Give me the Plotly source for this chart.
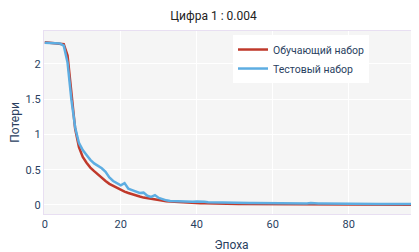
import plotly.graph_objects as go

epochs = list(range(100))

train_loss = [
    2.31, 2.305, 2.30, 2.30, 2.295, 2.28, 2.12, 1.55, 1.08, 0.82,
    0.68, 0.60, 0.53, 0.48, 0.43, 0.38, 0.34, 0.30, 0.27, 0.24,
    0.215, 0.19, 0.17, 0.15, 0.135, 0.12, 0.105, 0.095, 0.085, 0.077,
    0.068, 0.060, 0.054, 0.048, 0.044, 0.040, 0.037, 0.034, 0.031, 0.029,
    0.027, 0.025, 0.024, 0.022, 0.021, 0.020, 0.019, 0.018, 0.0175, 0.017,
    0.016, 0.0155, 0.015, 0.0145, 0.014, 0.0135, 0.013, 0.0128, 0.0125, 0.012,
    0.0118, 0.0115, 0.011, 0.0108, 0.0105, 0.010, 0.0098, 0.0095, 0.0092, 0.009,
    0.0088, 0.0085, 0.0083, 0.008, 0.0078, 0.0076, 0.0074, 0.0072, 0.007, 0.0068,
    0.0066, 0.0064, 0.0062, 0.006, 0.0059, 0.0058, 0.0056, 0.0055, 0.0054, 0.0052,
    0.0051, 0.005, 0.0049, 0.0048, 0.0047, 0.0046, 0.0044, 0.0043, 0.0042, 0.004,
]

test_loss = [
    2.30, 2.30, 2.30, 2.295, 2.29, 2.26, 2.02, 1.50, 1.10, 0.88,
    0.78, 0.71, 0.64, 0.59, 0.56, 0.52, 0.47, 0.39, 0.34, 0.31,
    0.28, 0.31, 0.23, 0.21, 0.19, 0.17, 0.175, 0.13, 0.115, 0.14,
    0.10, 0.08, 0.066, 0.058, 0.055, 0.052, 0.050, 0.046, 0.045, 0.047,
    0.050, 0.052, 0.045, 0.040, 0.038, 0.037, 0.035, 0.033, 0.032, 0.031,
    0.030, 0.030, 0.029, 0.028, 0.028, 0.027, 0.026, 0.026, 0.025, 0.025,
    0.024, 0.024, 0.023, 0.025, 0.024, 0.023, 0.022, 0.022, 0.021, 0.022,
    0.028, 0.021, 0.020, 0.020, 0.019, 0.019, 0.019, 0.018, 0.018, 0.018,
    0.017, 0.017, 0.017, 0.017, 0.016, 0.016, 0.016, 0.016, 0.015, 0.015,
    0.015, 0.015, 0.015, 0.014, 0.014, 0.014, 0.014, 0.014, 0.013, 0.013,
]

fig = go.Figure()
fig.add_trace(go.Scatter(x=epochs, y=train_loss, mode="lines", name="Обучающий набор",
                         line=dict(color="#c0392b", width=2.5)))
fig.add_trace(go.Scatter(x=epochs, y=test_loss, mode="lines", name="Тестовый набор",
                         line=dict(color="#5dade2", width=2.5)))

fig.update_layout(
    width=411, height=244,
    margin=dict(l=36, r=0, t=23, b=38, autoexpand=False),
    paper_bgcolor="white",
    plot_bgcolor="#f5f5f5",
    font=dict(family="Roboto, Arial, sans-serif", size=11, color="#2a3f5f"),
    title=dict(text="Цифра 1 : 0.004", x=0.5, xanchor="center", y=0.966, yanchor="middle",
               font=dict(size=12, color="#222")),
    legend=dict(x=0.504, y=0.978, xanchor="left", yanchor="top",
                bgcolor="white", font=dict(size=10.5)),
    showlegend=True,
)
fig.update_xaxes(title=dict(text="Эпоха", font=dict(size=12), standoff=10),
                 range=[-0.2, 98.5], gridcolor="white", zeroline=False, automargin=False,
                 showline=True, linecolor="#e8dff2", mirror=True, linewidth=1,
                 tickvals=[0, 20, 40, 60, 80], ticks="")
fig.update_yaxes(title=dict(text="Потери", font=dict(size=12), standoff=3),
                 range=[-0.128, 2.468], gridcolor="white", zeroline=False, automargin=False,
                 showline=True, linecolor="#e8dff2", mirror=True, linewidth=1,
                 tickvals=[0, 0.5, 1, 1.5, 2], ticks="")

fig.write_html("out.html")
